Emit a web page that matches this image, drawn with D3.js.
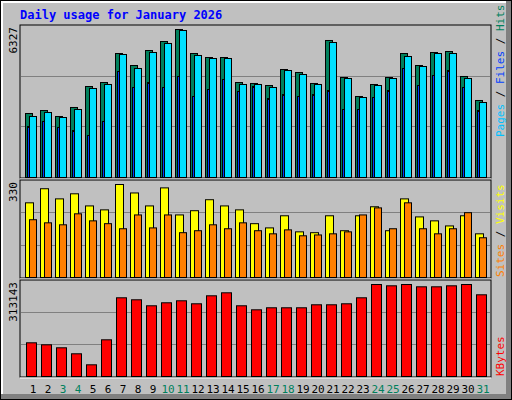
<!DOCTYPE html>
<html><head><meta charset="utf-8">
<script src="https://cdn.jsdelivr.net/npm/d3@7"></script>
<style>body{margin:0;background:#fff}</style>
</head><body><div class="canvas"></div>
<script>
const days = d3.range(1, 32);
const weekend = [3, 4, 10, 11, 17, 18, 24, 25, 31];
const hits = [2736,2864,2608,2993,3890,4061,5301,4788,5429,5814,6327,5301,5130,5130,4061,4019,3933,4617,4489,4019,5857,4275,3463,3976,4275,5301,4788,5344,5386,4318,3292];
const files = [2608,2779,2565,2907,3805,3976,5258,4660,5344,5729,6284,5216,5087,5087,3976,3976,3848,4574,4403,3976,5771,4232,3420,3933,4232,5173,4745,5301,5301,4232,3206];
const pages = [2180,2394,2138,2009,1796,2394,4532,3848,4061,3848,4318,3463,3762,4190,3677,3890,3377,3548,3463,3548,3719,2907,2907,3420,3719,4660,3933,4361,4574,3848,2864];
const visits = [265,315,279,297,254,240,330,300,254,318,222,237,276,254,240,191,176,219,162,159,219,166,219,251,166,279,215,201,183,219,155];
const sites = [205,194,187,226,201,191,173,222,176,222,159,166,187,173,194,166,155,169,148,151,155,162,222,247,173,265,173,155,173,230,141];
const kbytes = [114700,107900,97700,77300,39800,124900,267900,261100,240700,250900,257700,247500,274700,284900,240700,227000,233900,233900,233900,244100,244100,247500,267900,313143,308700,313143,305300,305300,308700,313143,278100];

const font = '"DejaVu Sans Mono", monospace';
const svg = d3.select('.canvas').append('svg').attr('width', 512).attr('height', 400);

// frame
svg.append('rect').attr('width', 512).attr('height', 400).attr('fill', '#000');
svg.append('rect').attr('x', 1).attr('y', 1).attr('width', 510).attr('height', 398).attr('fill', '#808080');
svg.append('rect').attr('x', 1).attr('y', 1).attr('width', 505).attr('height', 393).attr('fill', '#fff');
svg.append('rect').attr('x', 3).attr('y', 3).attr('width', 503).attr('height', 391).attr('fill', '#c0c0c0');

svg.append('text').attr('x', 20).attr('y', 19).attr('font-family', font).attr('font-weight', 'bold')
  .attr('font-size', 12).attr('fill', '#0000ff').text('Daily usage for January 2026');

const x = d3.scaleBand().domain(days).range([20, 485]).paddingInner(0).paddingOuter(0);

const panels = [
  { top: 25, bottom: 177, max: 6327, peak: 29 },
  { top: 180, bottom: 277, max: 330, peak: 184 },
  { top: 280, bottom: 376, max: 313143, peak: 284 }
];

panels.forEach(p => {
  p.y = d3.scaleLinear().domain([0, p.max]).range([p.bottom, p.peak]);
  svg.append('rect').attr('x', 20).attr('y', p.top).attr('width', 471).attr('height', p.bottom - p.top + 1)
    .attr('fill', '#c0c0c0').attr('stroke', '#000').attr('stroke-width', 1);
  svg.append('line').attr('x1', 20).attr('x2', 491).attr('y1', p.bottom + 2).attr('y2', p.bottom + 2).attr('stroke', '#fff');
  [1, 2].forEach(k => {
    const gy = Math.round(p.bottom - (p.bottom - p.top) * k / 3) + 0.5;
    svg.append('line').attr('x1', 21).attr('x2', 490).attr('y1', gy).attr('y2', gy).attr('stroke', '#808080');
  });
  svg.append('text').attr('transform', `translate(17,${p.top + 2}) rotate(-90)`)
    .attr('text-anchor', 'end').attr('font-family', font).attr('font-size', 11).attr('fill', '#000').text(p.max);
});

const bars = (panel, vals, dx, w, color) => {
  svg.append('g').selectAll('rect').data(vals).join('rect')
    .attr('x', (d, i) => x(days[i]) + dx + 0.5)
    .attr('y', d => panel.y(d) + 0.5)
    .attr('width', w)
    .attr('height', d => panel.bottom - panel.y(d))
    .attr('fill', color).attr('stroke', '#000').attr('stroke-width', 1);
};

bars(panels[0], hits, 5, 7, '#00805c');
bars(panels[0], files, 9, 7, '#00e0ff');
bars(panels[0], pages, 7, 2, '#0040ff');
bars(panels[1], visits, 5, 8, '#ffff00');
bars(panels[1], sites, 9, 7, '#ff8000');
bars(panels[2], kbytes, 6, 10, '#ff0000');

// day labels
svg.append('g').selectAll('text').data(days).join('text')
  .attr('x', d => x(d) + 13).attr('y', 393)
  .attr('text-anchor', 'middle').attr('font-family', font).attr('font-size', 11)
  .attr('fill', d => weekend.includes(d) ? '#00805c' : '#000').text(d => d);

// right legends
const legend = (yPos, parts) => {
  const t = svg.append('text').attr('transform', `translate(504,${yPos}) rotate(-90)`)
    .attr('font-family', font).attr('font-size', 11);
  parts.forEach(([s, c]) => t.append('tspan').attr('fill', c).text(s));
};
legend(137, [['Pages', '#00c0ff'], [' / ', '#000'], ['Files', '#0040ff'], [' / ', '#000'], ['Hits', '#00805c']]);
legend(277, [['Sites', '#ff8000'], [' / ', '#000'], ['Visits', '#ffff00']]);
legend(376, [['KBytes', '#ff0000']]);
</script></body></html>
